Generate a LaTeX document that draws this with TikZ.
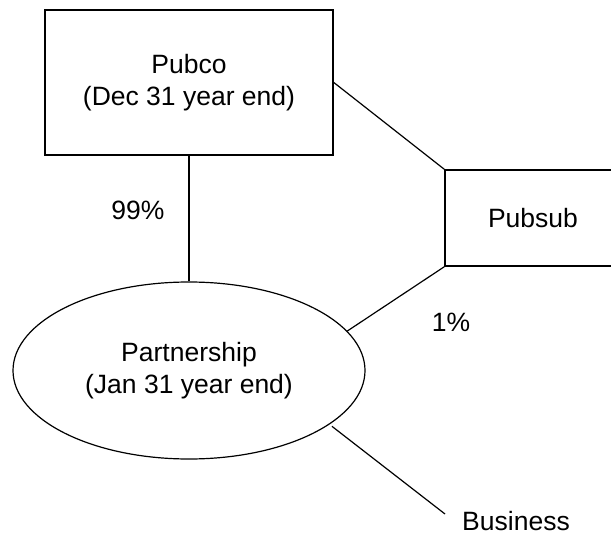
\documentclass[tikz,border=0pt]{standalone}
\usepackage{fontspec}
\setmainfont{Liberation Sans}
\usepackage{tikz}
\usetikzlibrary{shapes.geometric}

\tikzset{
  box/.style={draw,line width=1.6pt,rectangle,inner sep=0pt,align=center},
  oval/.style={draw,line width=1.2pt,ellipse,inner sep=0pt,align=center},
  lbl/.style={inner sep=0pt},
  link/.style={line width=1.2pt}
}

\begin{document}
\begin{tikzpicture}[x=1pt,y=-1pt,font=\fontsize{26.5}{32}\selectfont]
  \useasboundingbox (0,0) rectangle (611,535);
  \clip (0,0) rectangle (611,535);
  \node(pubco)[box,minimum width=288pt,minimum height=145pt] at (189,82.5) {Pubco\\(Dec 31 year end)};
  \node(pubsub)[box,minimum width=176pt,minimum height=96pt] at (533,218) {Pubsub};
  \node(partnership)[oval,minimum width=352pt,minimum height=177pt] at (189,370.5) {Partnership\\(Jan 31 year end)};
  \node(pct99)[lbl] at (138,210) {99\%};
  \node(pct1)[lbl] at (451,322) {1\%};
  \node(business)[lbl] at (516,521) {Business};
  \coordinate(bizend) at (445,514);
  \draw [line width=1.6pt] (pubco.south) -- (partnership.north);
  \draw [link] (pubco.east) -- (pubsub.north west);
  \draw [link] (pubsub.south west) -- (partnership.14);
  \draw [link,shorten <=3pt] (partnership.-21) -- (bizend);
\end{tikzpicture}
\end{document}
